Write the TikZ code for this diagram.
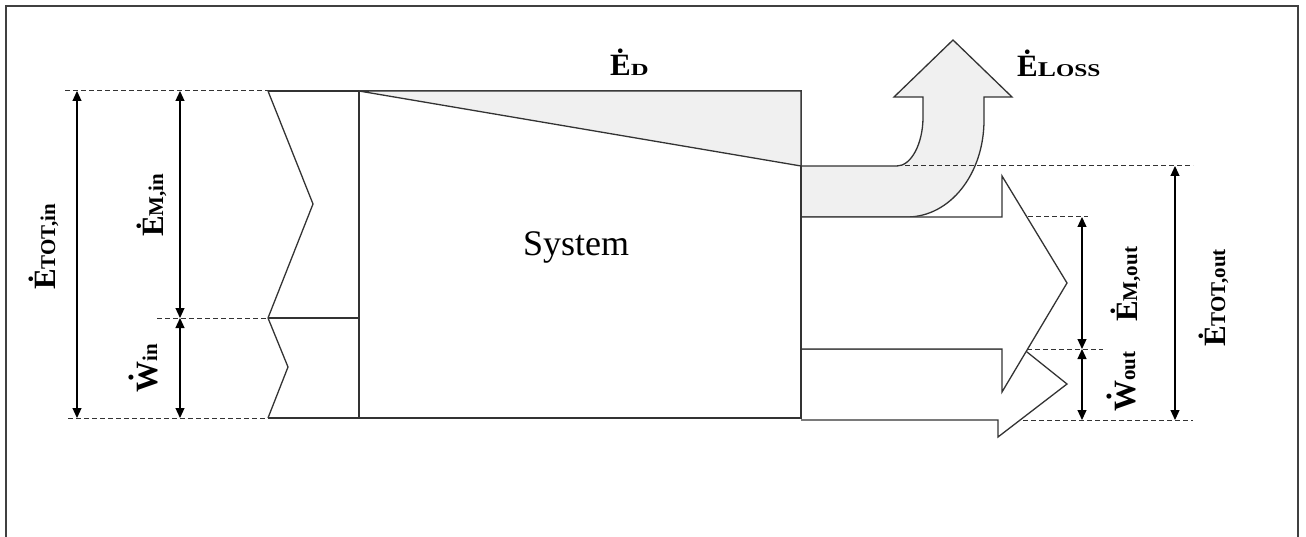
\documentclass[tikz,border=0pt]{standalone}
\usepackage{fontspec}
\usepackage{graphicx}
\setmainfont{Liberation Serif}
\usetikzlibrary{arrows.meta}
\definecolor{lightg}{HTML}{F0F0F0}
\definecolor{ink}{HTML}{333333}
\newcommand\dotover[1]{\setbox0=\hbox{#1}\rlap{\hbox to\wd0{\hss\raisebox{\dimexpr\ht0+3pt\relax}{.}\hss}}\box0}
\newcommand\sublbl[1]{{\fontsize{21}{21}\selectfont #1}}
\tikzset{
  ln/.style={draw=ink, line width=1.3pt, line join=miter},
  frameline/.style={draw=black!75, line width=2pt},
  dsh/.style={draw=ink, line width=1pt, dash pattern=on 5pt off 3pt},
  dim/.style={draw=black, line width=1.2pt, {Triangle[length=10pt,width=9pt]}-{Triangle[length=10pt,width=9pt]}},
  lbl/.style={font=\fontsize{31}{31}\selectfont\bfseries, inner sep=0pt},
}
\begin{document}
\begin{tikzpicture}[x=1pt,y=-1pt]
\useasboundingbox (0,0) rectangle (1306,537);
\draw[frameline] (6,545) -- (6,6) -- (1298,6) -- (1298,545);

% coordinates
\coordinate (inTop) at (268,91);
\coordinate (inMid) at (268,318);
\coordinate (inBot) at (268,418);
\coordinate (sysTL) at (359,91);
\coordinate (sysBR) at (801,418);

% left dashed guides
\draw[dsh] (65,91) -- (inTop);
\draw[dsh] (157,318) -- (inMid);
\draw[dsh] (68,418) -- (inBot);

% input zigzags
\draw[ln] (inTop) -- (313,204) -- (inMid) -- (288,367) -- (inBot);
\draw[ln] (inTop) -- (sysTL);
\draw[ln] (inMid) -- (359,318);
\draw[ln] (inBot) -- (359,418);

% output arrows
\filldraw[ln, fill=lightg] (801,166) -- (897,166) .. controls (911,166) and (923,144) .. (923,117) -- (923,97) -- (894,97) -- (953,40) -- (1012,97) -- (984,97) -- (984,120) .. controls (984,174) and (950,217) .. (907,217) -- (801,217);
\filldraw[ln, fill=white] (801,349) -- (1002,349) -- (1002,332) -- (1067,384) -- (998,437) -- (998,420) -- (801,420);
\filldraw[ln, fill=white] (801,217) -- (1002,217) -- (1002,176) -- (1067,283) -- (1002,392) -- (1002,349) -- (801,349);

% system box and exergy destruction wedge
\draw[ln] (sysTL) rectangle (sysBR);
\filldraw[ln, fill=lightg] (sysTL) -- (801,91) -- (801,166) -- cycle;

% right dashed guides
\draw[dsh] (897,166) -- (1193,166);
\draw[dsh] (1028,217) -- (1088,217);
\draw[dsh] (1027,349) -- (1103,349);
\draw[dsh] (1023,420) -- (1193,420);

% dimension arrows
\coordinate (a1t) at (77,91);   \coordinate (a1b) at (77,418);
\coordinate (a2t) at (180,91);  \coordinate (a2m) at (180,318); \coordinate (a2b) at (180,418);
\coordinate (b1t) at (1082,217); \coordinate (b1m) at (1082,349); \coordinate (b1b) at (1082,420);
\coordinate (b2t) at (1175,166); \coordinate (b2b) at (1175,420);
\draw[dim] (a1t) -- (a1b);
\draw[dim] (a2t) -- (a2m);
\draw[dim] (a2m) -- (a2b);
\draw[dim] (b1t) -- (b1m);
\draw[dim] (b1m) -- (b1b);
\draw[dim] (b2t) -- (b2b);

% labels
\node[font=\fontsize{36}{36}\selectfont, inner sep=0pt, anchor=base] (sys) at (576,256) {System};
\node[lbl, anchor=base west] (ed) at (610,76) {Ė{\fontsize{17}{17}\selectfont\scalebox{1.45}[1]{D}}};
\node[lbl, anchor=base west] (eloss) at (1017,77) {Ė\scalebox{1.3}[1]{{\fontsize{21}{21}\selectfont L}{\fontsize{18}{18}\selectfont OSS}}};
\node[lbl, anchor=base west, rotate=90] (etotin) at (55,290) {Ė\sublbl{TOT,in}};
\node[lbl, anchor=base west, rotate=90] (emin) at (163,237) {Ė\sublbl{M,in}};
\node[lbl, anchor=base west, rotate=90] (win) at (157,393) {\dotover{W}\sublbl{in}};
\node[lbl, anchor=base west, rotate=90] (emout) at (1137,322) {Ė\sublbl{M,out}};
\node[lbl, anchor=base west, rotate=90] (wout) at (1135,412) {\dotover{W}\sublbl{out}};
\node[lbl, anchor=base west, rotate=90] (etotout) at (1225,347) {Ė\sublbl{TOT,out}};
\end{tikzpicture}
\end{document}
